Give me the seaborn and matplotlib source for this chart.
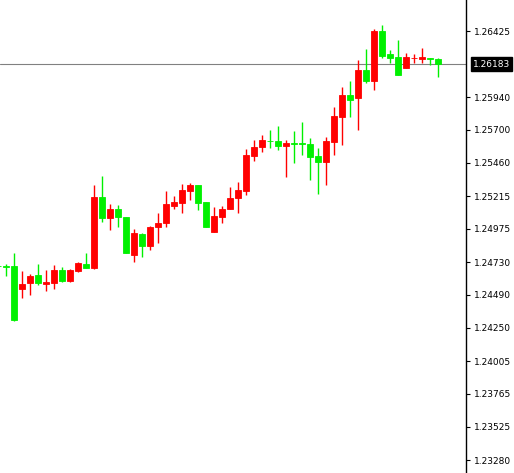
import numpy as np
import pandas as pd
import matplotlib
matplotlib.use("Agg")
import matplotlib.pyplot as plt
import seaborn as sns

# --- DATA ---
opens = [1.24702, 1.24702, 1.24702, 1.24534, 1.24578, 1.24636, 1.24570, 1.24578, 1.24673, 1.24592,
         1.24666, 1.24717, 1.24688, 1.25208, 1.25054, 1.25120, 1.25062, 1.24783, 1.24937, 1.24849,
         1.24988, 1.25018, 1.25142, 1.25164, 1.25252, 1.25296, 1.25171, 1.24952, 1.25062, 1.25120,
         1.25201, 1.25252, 1.25509, 1.25575, 1.25622, 1.25619, 1.25582, 1.25604, 1.25604, 1.25597,
         1.25509, 1.25465, 1.25611, 1.25795, 1.25956, 1.25934, 1.26139, 1.26058, 1.26425, 1.26256,
         1.26234, 1.26154, 1.26224, 1.26220, 1.26227, 1.26220]
highs = [1.24717, 1.24717, 1.24798, 1.24666, 1.24644, 1.24717, 1.24673, 1.24710, 1.24695, 1.24680,
         1.24730, 1.24798, 1.25296, 1.25362, 1.25157, 1.25149, 1.25062, 1.24974, 1.24944, 1.24996,
         1.25091, 1.25252, 1.25215, 1.25303, 1.25311, 1.25296, 1.25171, 1.25135, 1.25142, 1.25281,
         1.25318, 1.25560, 1.25626, 1.25663, 1.25699, 1.25729, 1.25626, 1.25692, 1.25758, 1.25641,
         1.25567, 1.25648, 1.25868, 1.26014, 1.26058, 1.26212, 1.26293, 1.26440, 1.26469, 1.26286,
         1.26359, 1.26264, 1.26256, 1.26300, 1.26227, 1.26227]
lows = [1.24695, 1.24629, 1.24300, 1.24468, 1.24490, 1.24563, 1.24519, 1.24534, 1.24585, 1.24585,
        1.24658, 1.24688, 1.24680, 1.25025, 1.24966, 1.24988, 1.24798, 1.24732, 1.24768, 1.24820,
        1.24871, 1.24988, 1.25120, 1.25091, 1.25186, 1.25113, 1.24988, 1.24952, 1.25018, 1.25120,
        1.25091, 1.25223, 1.25472, 1.25538, 1.25567, 1.25553, 1.25355, 1.25457, 1.25516, 1.25333,
        1.25230, 1.25296, 1.25516, 1.25589, 1.25795, 1.25699, 1.26044, 1.25992, 1.26227, 1.26190,
        1.26102, 1.26154, 1.26190, 1.26190, 1.26176, 1.26088]
closes = [1.24700, 1.24695, 1.24306, 1.24570, 1.24629, 1.24578, 1.24585, 1.24673, 1.24592, 1.24673,
          1.24724, 1.24688, 1.25208, 1.25054, 1.25120, 1.25062, 1.24798, 1.24944, 1.24849, 1.24988,
          1.25018, 1.25157, 1.25171, 1.25259, 1.25296, 1.25164, 1.24988, 1.25069, 1.25120, 1.25201,
          1.25259, 1.25516, 1.25575, 1.25626, 1.25619, 1.25582, 1.25604, 1.25600, 1.25600, 1.25501,
          1.25465, 1.25619, 1.25802, 1.25956, 1.25919, 1.26139, 1.26058, 1.26425, 1.26242, 1.26227,
          1.26102, 1.26234, 1.26227, 1.26234, 1.26220, 1.26183]

price_ticks = [1.26425, 1.25940, 1.25700, 1.25460, 1.25215, 1.24975, 1.24730,
               1.24490, 1.24250, 1.24005, 1.23765, 1.23525, 1.23280]
current_price = 1.26183

df = pd.DataFrame({"open": opens, "high": highs, "low": lows, "close": closes})
df["bar"] = np.arange(len(df))
df["up"] = df["close"] >= df["open"]
df["color"] = np.where(df["up"], "#ff0000", "#00f000")

sns.set_style("white")
plt.rcParams["font.family"] = ["DejaVu Sans"]

fig = plt.figure(figsize=(5.14, 4.73), dpi=100)
ax = fig.add_axes([0, 0, 466 / 514, 1])

# wicks
ax.vlines(df["bar"], df["low"], df["high"], colors=df["color"], linewidth=1)
# bodies
body_bottom = df[["open", "close"]].min(axis=1)
body_height = (df["open"] - df["close"]).abs()
ax.bar(df["bar"], body_height, bottom=body_bottom, width=0.65,
       color=df["color"], edgecolor=df["color"], linewidth=0.6)

# current price line and label
ax.axhline(current_price, color="#808080", linewidth=0.8, zorder=0)
ax.text(1.015, current_price, f"{current_price:.5f}", transform=ax.get_yaxis_transform(),
        va="center", ha="left", fontsize=6.5, color="white", clip_on=False,
        bbox=dict(boxstyle="square,pad=0.25", facecolor="black", edgecolor="black"))

ax.set_xlim(0.25, 58.5)
ax.set_ylim(1.231847, 1.266523)
ax.set_xticks([])
ax.set_yticks(price_ticks)
ax.set_yticklabels([f"{t:.5f}" for t in price_ticks])
ax.yaxis.tick_right()
ax.tick_params(axis="y", direction="out", length=3, width=0.8, pad=3,
               labelsize=6.5, colors="black")

for side in ["top", "left", "bottom"]:
    ax.spines[side].set_visible(False)
ax.spines["right"].set_color("black")
ax.spines["right"].set_linewidth(1)

fig.savefig("out.png", dpi=100)
